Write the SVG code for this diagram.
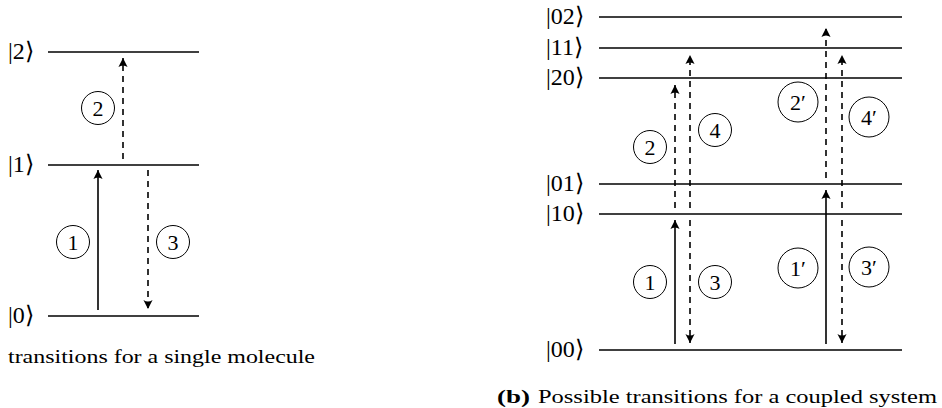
<svg xmlns="http://www.w3.org/2000/svg" width="942" height="408" viewBox="0 0 942 408">
<defs>
<marker id="ah" markerUnits="userSpaceOnUse" markerWidth="12" markerHeight="12" viewBox="-9 -5 10 10" refX="0" refY="0" orient="auto">
<path d="M0,0 L-7.5,-3.8 Q-5,0 -7.5,3.8 Z" fill="#000"/>
</marker>
</defs>
<g font-family="Liberation Serif" fill="#000">
<g stroke="#000" stroke-width="1.6">
<g id="L2"><line x1="48" y1="52" x2="199" y2="52"/><text stroke="none" font-size="24" x="8" y="59">|2⟩</text></g>
<g id="L1"><line x1="48" y1="165" x2="199" y2="165"/><text stroke="none" font-size="24" x="8" y="172">|1⟩</text></g>
<g id="L0"><line x1="48" y1="316" x2="199" y2="316"/><text stroke="none" font-size="24" x="8" y="323">|0⟩</text></g>
<g id="R02"><line x1="599" y1="17" x2="902" y2="17"/><text stroke="none" font-size="24" x="546" y="24">|02⟩</text></g>
<g id="R11"><line x1="599" y1="48" x2="902" y2="48"/><text stroke="none" font-size="24" x="546" y="55">|11⟩</text></g>
<g id="R20"><line x1="599" y1="78" x2="902" y2="78"/><text stroke="none" font-size="24" x="546" y="85">|20⟩</text></g>
<g id="R01"><line x1="599" y1="184" x2="902" y2="184"/><text stroke="none" font-size="24" x="546" y="191">|01⟩</text></g>
<g id="R10"><line x1="599" y1="214" x2="902" y2="214"/><text stroke="none" font-size="24" x="546" y="221">|10⟩</text></g>
<g id="R00"><line x1="599" y1="350" x2="902" y2="350"/><text stroke="none" font-size="24" x="546" y="357">|00⟩</text></g>
</g>
<g font-size="22" text-anchor="middle">
<g id="c_l1"><circle cx="73" cy="242" r="16.5" fill="none" stroke="#000"/><text x="73" y="250">1</text></g>
<g id="c_l2"><circle cx="98" cy="108" r="16.5" fill="none" stroke="#000"/><text x="98" y="116">2</text></g>
<g id="c_l3"><circle cx="173" cy="242" r="16.5" fill="none" stroke="#000"/><text x="173" y="250">3</text></g>
<g id="c_r1"><circle cx="650" cy="282" r="16.5" fill="none" stroke="#000"/><text x="650" y="290">1</text></g>
<g id="c_r2"><circle cx="650" cy="147" r="16.5" fill="none" stroke="#000"/><text x="650" y="155">2</text></g>
<g id="c_r3"><circle cx="715" cy="282" r="16.5" fill="none" stroke="#000"/><text x="715" y="290">3</text></g>
<g id="c_r4"><circle cx="715" cy="130" r="16.5" fill="none" stroke="#000"/><text x="715" y="138">4</text></g>
<g id="c_r1p"><circle cx="798" cy="268" r="20" fill="none" stroke="#000"/><text x="798" y="276">1′</text></g>
<g id="c_r2p"><circle cx="798" cy="102" r="20" fill="none" stroke="#000"/><text x="798" y="110">2′</text></g>
<g id="c_r3p"><circle cx="869" cy="267" r="20" fill="none" stroke="#000"/><text x="869" y="275">3′</text></g>
<g id="c_r4p"><circle cx="869" cy="117" r="20" fill="none" stroke="#000"/><text x="869" y="125">4′</text></g>
</g>
<g font-size="19">
<text x="8" y="363" textLength="307" lengthAdjust="spacingAndGlyphs">transitions for a single molecule</text>
<text x="497" y="403" font-weight="bold" textLength="33" lengthAdjust="spacingAndGlyphs">(b)</text>
<text x="538" y="403" textLength="399" lengthAdjust="spacingAndGlyphs">Possible transitions for a coupled system</text>
</g>
</g>
<g id="connectors" stroke="#000" stroke-width="1.6" fill="none" marker-end="url(#ah)">
<line x1="98" y1="310" x2="98" y2="170"/>
<line x1="675" y1="344" x2="675" y2="220"/>
<line x1="826" y1="344" x2="826" y2="190"/>
<g stroke-dasharray="6 5">
<line x1="123" y1="159" x2="123" y2="58"/>
<line x1="148" y1="170" x2="148" y2="309"/>
<line x1="675" y1="208" x2="675" y2="85"/>
<line x1="690" y1="208" x2="690" y2="55"/>
<line x1="690" y1="220" x2="690" y2="343"/>
<line x1="826" y1="178" x2="826" y2="28"/>
<line x1="842" y1="208" x2="842" y2="55"/>
<line x1="842" y1="220" x2="842" y2="343"/>
</g>
</g>
</svg>
